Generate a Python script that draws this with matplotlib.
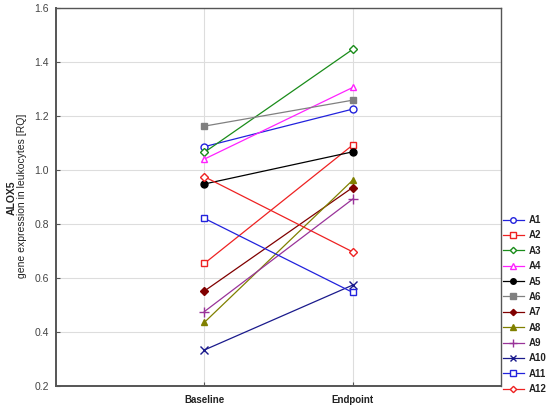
import matplotlib
matplotlib.use("Agg")
import matplotlib.pyplot as plt

plt.rcParams['font.family'] = ['Liberation Sans', 'DejaVu Sans']

timepoints = ["Baseline", "Endpoint"]
series_names = ["A1", "A2", "A3", "A4", "A5", "A6", "A7", "A8", "A9", "A10", "A11", "A12"]
baseline = [1.087, 0.655, 1.066, 1.041, 0.949, 1.163, 0.553, 0.437, 0.477, 0.335, 0.822, 0.976]
endpoint = [1.226, 1.093, 1.447, 1.306, 1.068, 1.259, 0.936, 0.963, 0.893, 0.575, 0.548, 0.698]
y_ticks = [0.2, 0.4, 0.6, 0.8, 1.0, 1.2, 1.4, 1.6]

colors = ["#2222dd", "#ee2222", "#1a8c1a", "#ff22ff", "#000000", "#808080",
          "#800000", "#808000", "#993399", "#1a1a8c", "#2222dd", "#ee2222"]
markers = ["o", "s", "D", "^", "o", "s", "D", "^", "+", "x", "s", "D"]
filled = [False, False, False, False, True, True, True, True, True, True, False, False]
msizes = [5, 5, 4, 5, 5, 5, 4, 5, 7, 6, 5, 4]

fig = plt.figure(figsize=(5.5, 4.08), dpi=100)
ax = fig.add_axes([0.1018, 0.0527, 0.8091, 0.9277])

xs = [1, 2]
for i, name in enumerate(series_names):
    c = colors[i]
    ax.plot(xs, [baseline[i], endpoint[i]], color=c, lw=0.9, marker=markers[i],
            markersize=msizes[i], markeredgecolor=c,
            markerfacecolor=(c if filled[i] else "white"), markeredgewidth=1.0,
            label=name, zorder=3)

ax.set_xlim(0, 3)
ax.set_ylim(0.2, 1.6)
ax.set_xticks(xs)
ax.set_xticklabels(timepoints, fontsize=7, fontweight='bold', color="#222222")
ax.set_yticks(y_ticks)
ax.set_yticklabels([f"{v:.1f}" for v in y_ticks], fontsize=7.5, color="#444444")
ax.grid(True, color="#dddddd", lw=0.8, zorder=0)
ax.tick_params(axis='y', direction='in', length=3, color="#555555", pad=5)
ax.tick_params(axis='x', direction='in', length=3, color="#555555", pad=6)
for s in ['left', 'bottom']:
    ax.spines[s].set_linewidth(1.4)
    ax.spines[s].set_color("#555555")
for s in ['top', 'right']:
    ax.spines[s].set_linewidth(1.0)
    ax.spines[s].set_color("#555555")

fig.text(12 / 550, 1 - 198 / 408, "ALOX5", rotation=90, fontsize=7.5, fontweight='bold',
         ha='center', va='center', color="#222222")
fig.text(22 / 550, 1 - 196 / 408, "gene expression in leukocytes [RQ]", rotation=90,
         fontsize=7.5, ha='center', va='center', color="#222222")

leg = ax.legend(loc='lower left', bbox_to_anchor=(0.995, -0.03), frameon=False,
                fontsize=7, handlelength=2.2, handletextpad=0.5, labelspacing=0.55,
                borderaxespad=0, markerscale=0.8)
for t in leg.get_texts():
    t.set_fontweight('bold')
    t.set_color("#222222")

fig.savefig("out.png", dpi=100)
